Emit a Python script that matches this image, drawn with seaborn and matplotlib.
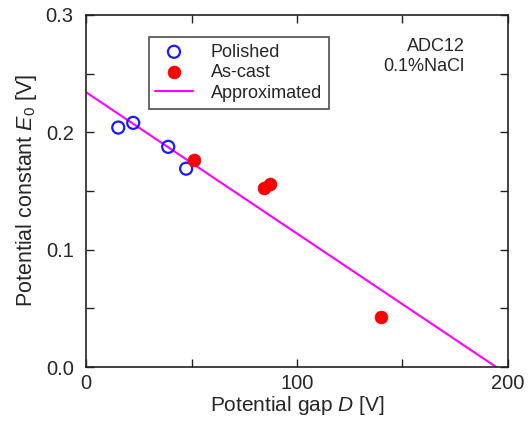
import matplotlib
matplotlib.use("Agg")
import matplotlib.pyplot as plt
import seaborn as sns
import pandas as pd
from matplotlib.ticker import MultipleLocator, FormatStrFormatter

# data
polished_d = [15.2, 22.3, 38.9, 47.4]
polished_e0 = [0.204, 0.208, 0.1876, 0.169]
ascast_d = [51.2, 84.4, 87.2, 139.8]
ascast_e0 = [0.1765, 0.1526, 0.156, 0.0426]
approx_d = [0, 194.6]
approx_e0 = [0.234, 0.0]

sns.set_style("ticks")
plt.rcParams["font.family"] = ["Liberation Sans", "DejaVu Sans"]
plt.rcParams["mathtext.fontset"] = "custom"
plt.rcParams["mathtext.it"] = "Liberation Sans:italic"
plt.rcParams["mathtext.rm"] = "Liberation Sans"

fig, ax = plt.subplots(figsize=(5.29, 4.23), dpi=100)

pol = pd.DataFrame({"D": polished_d, "E0": polished_e0})
cast = pd.DataFrame({"D": ascast_d, "E0": ascast_e0})
line = pd.DataFrame({"D": approx_d, "E0": approx_e0})

sns.scatterplot(data=pol, x="D", y="E0", ax=ax, marker="o", s=75,
                facecolor="none", edgecolor="#1a1aff", linewidth=1.6,
                label="Polished", zorder=3)
sns.scatterplot(data=cast, x="D", y="E0", ax=ax, marker="o", s=85,
                color="#ff0000", edgecolor="#ff0000", linewidth=0.5,
                label="As-cast", zorder=3)
sns.lineplot(data=line, x="D", y="E0", ax=ax, color="#ff00ff",
             linewidth=1.5, label="Approximated", zorder=2)

ax.set_xlim(0, 200)
ax.set_ylim(0, 0.3)
ax.xaxis.set_major_locator(MultipleLocator(100))
ax.xaxis.set_minor_locator(MultipleLocator(50))
ax.yaxis.set_major_locator(MultipleLocator(0.1))
ax.yaxis.set_minor_locator(MultipleLocator(0.05))
ax.yaxis.set_major_formatter(FormatStrFormatter("%.1f"))
ax.tick_params(which="both", direction="in", top=True, right=True,
               labelsize=14.5, width=1, color="#222222", length=6)
ax.tick_params(axis="y", pad=9)
ax.tick_params(axis="x", pad=5)
for sp in ax.spines.values():
    sp.set_linewidth(1.2)
    sp.set_color("#222222")

ax.set_xlabel(r"Potential gap $\mathit{D}$ [V]", fontsize=15, labelpad=1)
ax.set_ylabel(r"Potential constant $\mathit{E}_0$ [V]", fontsize=15.5, labelpad=5)

ax.text(0.898, 0.882, "ADC12\n0.1%NaCl", transform=ax.transAxes,
        ha="right", va="center", fontsize=13, linespacing=1.25)

leg = ax.legend(loc="upper left", bbox_to_anchor=(0.148, 0.938), borderaxespad=0,
                fontsize=13, frameon=True, fancybox=False, edgecolor="#222222",
                handlelength=2.05, borderpad=0.38, labelspacing=0.2,
                handletextpad=1.0)
leg.get_frame().set_linewidth(1.2)

fig.subplots_adjust(left=0.163, right=0.96, top=0.965, bottom=0.132)
fig.savefig("out.png", dpi=100)
